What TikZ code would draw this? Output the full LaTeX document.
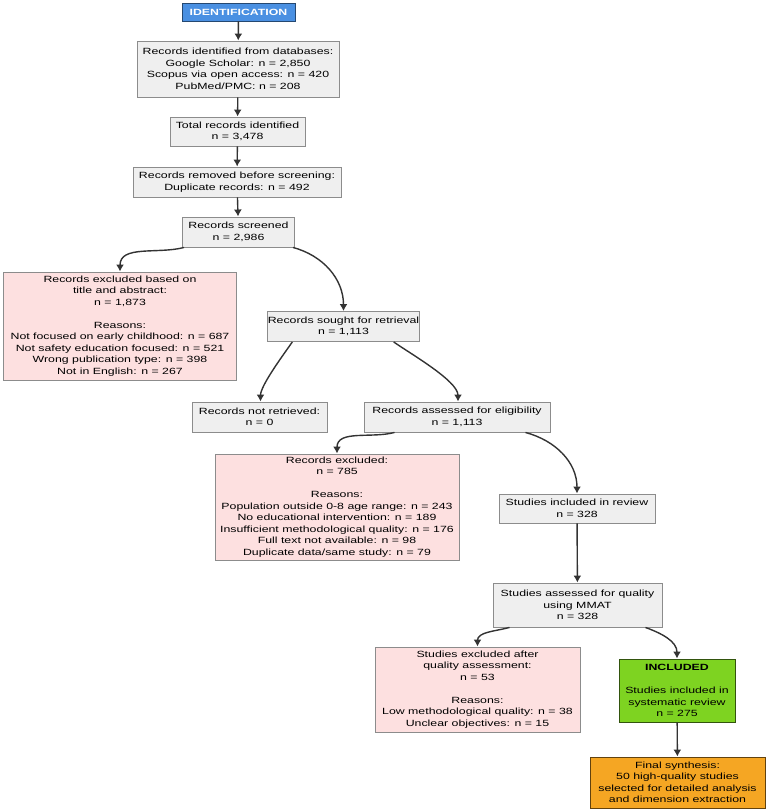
\documentclass[tikz,border=0pt]{standalone}
\usepackage{fontspec}
\setmainfont{Liberation Sans}[FakeStretch = 1.37]
\usetikzlibrary{
    arrows.meta
}
\definecolor{boxgray}{HTML}{EFEFEF}
\definecolor{boxpink}{HTML}{FDE0E0}
\definecolor{edgegray}{HTML}{8C8C8C}
\definecolor{arrowgray}{HTML}{333333}
\definecolor{idblue}{HTML}{4A90E2}
\definecolor{inclgreen}{HTML}{7ED321}
\definecolor{synthorange}{HTML}{F5A623}
\tikzset {
    record/.style = {
        draw = edgegray,
        fill = boxgray,
        line width = 0.9pt,
        align = center,
        inner sep = 0pt,
        font = \fontsize{9}{11.5}\selectfont
    },
    dropped/.style = {record, fill = boxpink},
    stage/.style = {record, draw = idblue!50!black, fill = idblue, text = white, font = \fontsize{9}{11.5}\selectfont\bfseries},
    kept/.style = {record, draw = inclgreen!40!black, fill = inclgreen},
    synth/.style = {record, draw = synthorange!40!black, fill = synthorange},
    flow/.style = {
        draw = arrowgray,
        line width = 1.4pt,
        arrows = {-Latex[length = 7pt, width = 8pt]}
    }
}

\begin{document}
\begin{tikzpicture}[x = 1pt, y = -1pt]
    \useasboundingbox (0, 0) rectangle (767, 811);
    % identification
    \node (id) [stage, minimum width = 113, minimum height = 18] at (238.5, 12) {IDENTIFICATION};
    \node (db) [record, minimum width = 202, minimum height = 56] at (238, 69) {Records identified from databases:\\Google Scholar: n = 2,850\\Scopus via open access: n = 420\\PubMed/PMC: n = 208};
    \node (total) [record, minimum width = 135, minimum height = 29] at (237.5, 131.5) {Total records identified\\n = 3,478};
    \node (dup) [record, minimum width = 208, minimum height = 30] at (237, 182) {Records removed before screening:\\Duplicate records: n = 492};
    % screening
    \node (screen) [record, minimum width = 112, minimum height = 30] at (238.5, 232) {Records screened\\n = 2,986};
    \node (exta) [dropped, minimum width = 233, minimum height = 108] at (120, 326) {Records excluded based on\\title and abstract:\\n = 1,873\\[11.5pt]Reasons:\\Not focused on early childhood: n = 687\\Not safety education focused: n = 521\\Wrong publication type: n = 398\\Not in English: n = 267};
    \node (sought) [record, minimum width = 137, minimum height = 30] at (343.5, 326.5) {Records sought for retrieval\\n = 1,113};
    \node (notret) [record, minimum width = 135, minimum height = 30] at (259.5, 417) {Records not retrieved:\\n = 0};
    \node (elig) [record, minimum width = 186, minimum height = 30] at (457, 417) {Records assessed for eligibility\\n = 1,113};
    \node (extb) [dropped, minimum width = 244, minimum height = 106] at (337, 507) {Records excluded:\\n = 785\\[11.5pt]Reasons:\\Population outside 0-8 age range: n = 243\\No educational intervention: n = 189\\Insufficient methodological quality: n = 176\\Full text not available: n = 98\\Duplicate data/same study: n = 79};
    % included
    \node (review) [record, minimum width = 156, minimum height = 29] at (577, 508.5) {Studies included in review\\n = 328};
    \node (mmat) [record, minimum width = 169, minimum height = 44] at (577.5, 605) {Studies assessed for quality\\using MMAT\\n = 328};
    \node (extc) [dropped, minimum width = 205, minimum height = 85] at (477.5, 689.5) {Studies excluded after\\quality assessment:\\n = 53\\[11.5pt]Reasons:\\Low methodological quality: n = 38\\Unclear objectives: n = 15};
    \node (incl) [kept, minimum width = 116, minimum height = 63] at (677, 690.5) {\textbf{INCLUDED}\\[11.5pt]Studies included in\\systematic review\\n = 275};
    \node (final) [synth, minimum width = 175, minimum height = 51] at (677.5, 782.5) {Final synthesis:\\50 high-quality studies\\selected for detailed analysis\\and dimension extraction};

    \draw [flow] (id) -- (db);
    \draw [flow] (db) -- (total);
    \draw [flow] (total) -- (dup);
    \draw [flow] (dup) -- (screen);
    \draw [flow] ([xshift = 2pt]screen.south west) to [out = 195, in = 90] (exta.north);
    \draw [flow] ([xshift = -2pt]screen.south east) to [out = -15, in = 90] (sought.north);
    \draw [flow] ([xshift = 25pt]sought.south west) to [out = -125, in = 90, looseness = 0.6] ([xshift = 1pt]notret.north);
    \draw [flow] ([xshift = -26pt]sought.south east) to [out = -35, in = 90, looseness = 0.6] ([xshift = 1pt]elig.north);
    \draw [flow] ([xshift = 31pt]elig.south west) to [out = -165, in = 90] (extb.north);
    \draw [flow] ([xshift = -25pt]elig.south east) to [out = -15, in = 90] (review.north);
    \draw [flow] (review) -- (mmat);
    \draw [flow] ([xshift = 17pt]mmat.south west) to [out = -165, in = 90] (extc.north);
    \draw [flow] ([xshift = -17pt]mmat.south east) to [out = -20, in = 90] (incl.north);
    \draw [flow] (incl) -- (final);
\end{tikzpicture}
\end{document}
